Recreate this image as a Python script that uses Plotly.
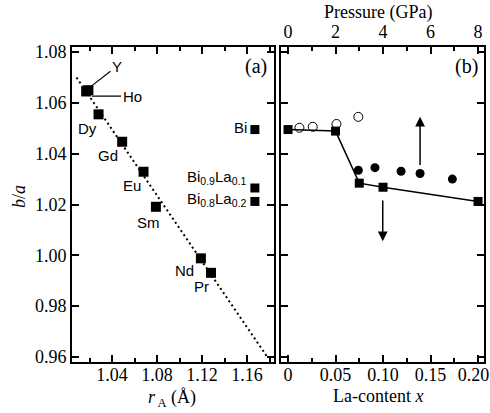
import plotly.graph_objects as go

W, H = 490, 413

# ---- data: panel (a) ----
rare_labels = ["Y", "Ho", "Dy", "Gd", "Eu", "Sm", "Nd", "Pr"]
rare_r = [1.019, 1.017, 1.028, 1.049, 1.068, 1.079, 1.119, 1.128]
rare_ba = [1.0650, 1.0645, 1.0555, 1.0447, 1.0329, 1.0191, 0.9988, 0.9931]
bi_labels = ["Bi", "Bi<sub>0.9</sub>La<sub>0.1</sub>", "Bi<sub>0.8</sub>La<sub>0.2</sub>"]
bi_r = [1.167, 1.167, 1.167]
bi_ba = [1.0495, 1.0265, 1.0212]
fit_r = [1.0084, 1.178]
fit_ba = [1.070, 0.960]

# ---- data: panel (b) ----
la_x = [0.0, 0.05, 0.075, 0.10, 0.20]
la_ba = [1.0495, 1.0489, 1.0284, 1.0268, 1.0212]
open_x = [0.012, 0.026, 0.051, 0.074]
open_ba = [1.0502, 1.0506, 1.0517, 1.0545]
filled_x = [0.074, 0.0915, 0.119, 0.139, 0.173]
filled_ba = [1.0335, 1.0345, 1.0331, 1.0322, 1.0300]

left_ticks = [1.04, 1.08, 1.12, 1.16]
right_ticks = [0, 0.05, 0.10, 0.15, 0.20]
right_ticktext = ["0", "0.05", "0.10", "0.15", "0.20\u00a0\u00a0"]
p_ticks = [0, 2, 4, 6, 8]
y_ticks = [0.96, 0.98, 1.00, 1.02, 1.04, 1.06, 1.08]

SERIF = "Liberation Serif, Times New Roman, Times, serif"
SANS = "Liberation Sans, Arial, sans-serif"

def px(x):
    return x / W

def py(y):
    return 1 - y / H

fig = go.Figure()

fig.add_trace(go.Scatter(x=fit_r, y=fit_ba, mode="lines",
                         line=dict(color="black", width=2, dash="2px,3px"),
                         xaxis="x", yaxis="y", showlegend=False))
fig.add_trace(go.Scatter(x=rare_r, y=rare_ba, mode="markers",
                         marker=dict(symbol="square", size=10, color="black"),
                         xaxis="x", yaxis="y", showlegend=False))
fig.add_trace(go.Scatter(x=bi_r, y=bi_ba, mode="markers",
                         marker=dict(symbol="square", size=9, color="black"),
                         xaxis="x", yaxis="y", showlegend=False))

fig.add_trace(go.Scatter(x=la_x, y=la_ba, mode="lines+markers",
                         line=dict(color="black", width=1.5),
                         marker=dict(symbol="square", size=9, color="black"),
                         xaxis="x2", yaxis="y2", showlegend=False, cliponaxis=False))
fig.add_trace(go.Scatter(x=open_x, y=open_ba, mode="markers",
                         marker=dict(symbol="circle-open", size=9, color="black",
                                     line=dict(width=1)),
                         xaxis="x2", yaxis="y2", showlegend=False))
fig.add_trace(go.Scatter(x=filled_x, y=filled_ba, mode="markers",
                         marker=dict(symbol="circle", size=9, color="black"),
                         xaxis="x2", yaxis="y2", showlegend=False))

axis_common = dict(showline=True, linecolor="black", linewidth=2, ticks="inside",
                   tickcolor="black", tickwidth=1.5, showgrid=False, zeroline=False,
                   automargin=False, ticklabeloverflow="allow",
                   tickfont=dict(family=SERIF, size=18, color="black"))

fig.update_layout(
    width=W, height=H,
    margin=dict(l=0, r=0, t=0, b=0, pad=0, autoexpand=False),
    plot_bgcolor="white", paper_bgcolor="white",
    xaxis=dict(domain=[px(72), px(274)], range=[1.0044, 1.184],
               tickvals=left_ticks, ticktext=[f"{v:.2f}" for v in left_ticks],
               ticklen=7, mirror="ticks", ticklabelstandoff=-5,
               minor=dict(dtick=0.02, tick0=1.0, ticks="inside", ticklen=4,
                          tickcolor="black", tickwidth=1.5, showgrid=False),
               anchor="y", **axis_common),
    yaxis=dict(domain=[py(362), py(47)], range=[0.958, 1.082],
               tickvals=y_ticks, ticktext=[f"{v:.2f}" for v in y_ticks],
               ticklen=7, mirror="ticks", anchor="x", **axis_common),
    xaxis2=dict(domain=[px(281), px(484)], range=[-0.0074, 0.2063],
                tickvals=right_ticks, ticktext=right_ticktext, ticklen=7,
                mirror=True, ticklabelstandoff=-5,
                minor=dict(dtick=0.025, tick0=0, ticks="inside", ticklen=4,
                           tickcolor="black", tickwidth=1.5, showgrid=False),
                anchor="y2", **axis_common),
    yaxis2=dict(domain=[py(362), py(47)], range=[0.958, 1.082],
                tickvals=y_ticks, showticklabels=False, ticklen=7,
                mirror="ticks", anchor="x2", **axis_common),
    xaxis3=dict(overlaying="x2", side="top", anchor="y2",
                range=[-0.0074 * 40, 0.2063 * 40],
                tickvals=p_ticks, ticktext=[str(v) for v in p_ticks], ticklen=7,
                minor=dict(dtick=1, tick0=0, ticks="inside", ticklen=4,
                           tickcolor="black", tickwidth=1.5, showgrid=False),
                **axis_common),
)

# invisible trace so the pressure axis is drawn
fig.add_trace(go.Scatter(x=[0], y=[1.0], mode="markers", marker=dict(opacity=0),
                         xaxis="x3", yaxis="y2", showlegend=False, hoverinfo="skip"))

ann = []
lab_font = dict(family=SANS, size=15, color="black")

def lab(text, x, y, xshift=0, yshift=0):
    ann.append(dict(text=text, x=x, y=y, xref="x", yref="y", showarrow=False,
                    xanchor="center", yanchor="middle",
                    xshift=xshift, yshift=yshift, font=lab_font))

ann.append(dict(text="Y", x=1.0204, y=1.0662, xref="x", yref="y", ax=27, ay=-21,
                showarrow=True, arrowhead=0, arrowwidth=1.2, arrowcolor="black",
                font=lab_font, standoff=0))
ann.append(dict(text="Ho", x=1.0222, y=1.0627, xref="x", yref="y", ax=40, ay=0,
                showarrow=True, arrowhead=0, arrowwidth=1.2, arrowcolor="black",
                font=lab_font, standoff=0))
lab("Dy", rare_r[2], rare_ba[2], xshift=-11, yshift=-14)
lab("Gd", rare_r[3], rare_ba[3], xshift=-14, yshift=-14)
lab("Eu", rare_r[4], rare_ba[4], xshift=-12, yshift=-14)
lab("Sm", rare_r[5], rare_ba[5], xshift=-7, yshift=-16)
lab("Nd", rare_r[6], rare_ba[6], xshift=-16, yshift=-12)
lab("Pr", rare_r[7], rare_ba[7], xshift=-10, yshift=-14)
lab(bi_labels[0], bi_r[0], bi_ba[0], xshift=-14, yshift=2)
lab(bi_labels[1], bi_r[1], bi_ba[1], xshift=-38, yshift=10)
lab(bi_labels[2], bi_r[2], bi_ba[2], xshift=-38, yshift=2)

ann.append(dict(x=0.139, y=1.0545, ax=0.139, ay=1.0350, xref="x2", yref="y2",
                axref="x2", ayref="y2", text="", showarrow=True, arrowhead=2,
                arrowsize=1.3, arrowwidth=1.5, arrowcolor="black"))
ann.append(dict(x=0.0997, y=1.0055, ax=0.0997, ay=1.0222, xref="x2", yref="y2",
                axref="x2", ayref="y2", text="", showarrow=True, arrowhead=2,
                arrowsize=1.3, arrowwidth=1.5, arrowcolor="black"))

serif18 = dict(family=SERIF, size=18, color="black")

def ptext(text, x, y, font, angle=0):
    ann.append(dict(text=text, x=px(x), y=py(y), xref="paper", yref="paper",
                    xanchor="center", yanchor="middle", showarrow=False,
                    textangle=angle, font=font))

ptext("(a)", 256, 66, dict(family=SERIF, size=20, color="black"))
ptext("(b)", 466, 66, dict(family=SERIF, size=20, color="black"))
ptext("<i>b</i>/<i>a</i>", 19, 197, serif18, angle=-90)
ptext("<i>r</i><sub> A</sub> (Å)", 172, 398, serif18)
ptext("La-content <i>x</i>", 378, 396, serif18)
ptext("Pressure (GPa)", 378, 13, serif18)

fig.update_layout(annotations=ann)
fig.write_html("out.html", config={"displayModeBar": False},
               post_script="document.body.style.margin='0';document.body.style.overflow='hidden';")
